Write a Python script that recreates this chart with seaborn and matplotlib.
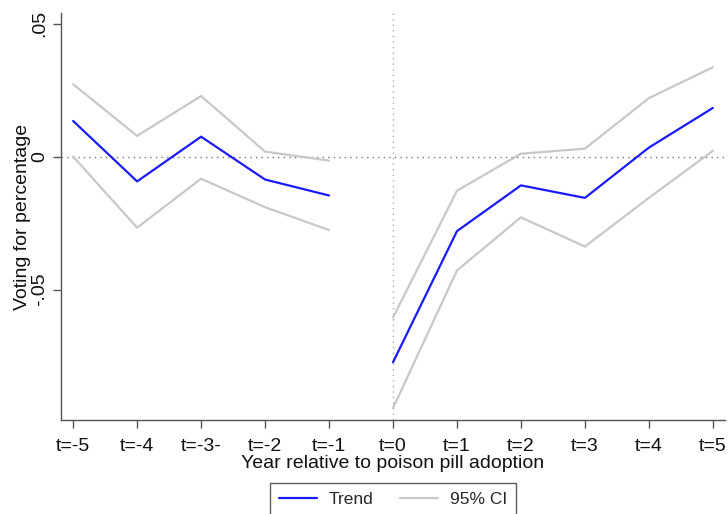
import matplotlib
matplotlib.use("Agg")
import matplotlib.pyplot as plt
import seaborn as sns
import pandas as pd
import numpy as np
from matplotlib.lines import Line2D

categories = ["t=-5", "t=-4", "t=-3-", "t=-2", "t=-1", "t=0", "t=1", "t=2", "t=3", "t=4", "t=5"]
trend = [0.0134, -0.0093, 0.0075, -0.0086, -0.0146, -0.0773, -0.0280, -0.0108, -0.0155, 0.0034, 0.0183]
ci_upper = [0.0272, 0.0078, 0.0228, 0.0019, -0.0015, -0.0605, -0.0128, 0.0011, 0.0030, 0.0220, 0.0336]
ci_lower = [0.0000, -0.0267, -0.0083, -0.0190, -0.0276, -0.0945, -0.0428, -0.0228, -0.0338, -0.0155, 0.0022]
segments = ["pre"] * 5 + ["post"] * 6

sns.set_theme(style="white")
plt.rcParams['font.family'] = ['Liberation Sans', 'DejaVu Sans']

pos = list(range(-5, 6))
rows = []
for name, vals in [("ci_upper", ci_upper), ("ci_lower", ci_lower), ("trend", trend)]:
    for p, v, s in zip(pos, vals, segments):
        rows.append({"x": p, "y": v, "series": name, "seg": name + s})
df = pd.DataFrame(rows)

fig = plt.figure(figsize=(7.28, 5.14), dpi=100)
ax = fig.add_axes([61 / 728, 1 - 420 / 514, (725 - 61) / 728, (420 - 13) / 514])

palette = {"ci_upper": "#c8c8c8", "ci_lower": "#c8c8c8", "trend": "#1a1aff"}
sns.lineplot(data=df, x="x", y="y", hue="series", units="seg", estimator=None,
             palette=palette, linewidth=1.6, ax=ax, legend=False, sort=False)

ax.axhline(0, color="#777777", linestyle=(0, (1, 3)), linewidth=1.0, zorder=0)
ax.axvline(0, color="#aaaaaa", linestyle=(0, (1, 3)), linewidth=1.0, zorder=0)

ax.set_xlim(-5.19, 5.19)
ax.set_ylim(-0.099, 0.054)
ax.set_xticks(pos)
ax.set_xticklabels(categories, fontsize=14, color="#111111")
ax.set_yticks([-0.05, 0, 0.05])
ax.set_yticklabels(["-.05", "0", ".05"], fontsize=14, rotation=90, va="center", color="#111111")
ax.tick_params(axis="both", direction="out", length=6, width=1, color="#555555", bottom=True, left=True)
ax.tick_params(axis="x", pad=7)
ax.tick_params(axis="y", pad=3)
ax.set_xlabel("Year relative to poison pill adoption", fontsize=14, labelpad=0, color="#111111")
ax.set_ylabel("Voting for percentage", fontsize=14, labelpad=0, color="#111111")

for s in ["top", "right"]:
    ax.spines[s].set_visible(False)
for s in ["left", "bottom"]:
    ax.spines[s].set_color("#555555")
    ax.spines[s].set_linewidth(1.0)

handles = [Line2D([0], [0], color="#1a1aff", lw=1.6), Line2D([0], [0], color="#c8c8c8", lw=1.6)]
leg = fig.legend(handles, ["Trend", "95% CI"], loc="upper center",
                 bbox_to_anchor=(393 / 728, 1 - 483 / 514), ncol=2, frameon=True,
                 fontsize=12.5, fancybox=False, edgecolor="#333333", handlelength=2.2,
                 columnspacing=1.5, borderpad=0.5, handletextpad=0.7, borderaxespad=0)
leg.get_frame().set_linewidth(1.0)

fig.savefig("out.png", dpi=100)
